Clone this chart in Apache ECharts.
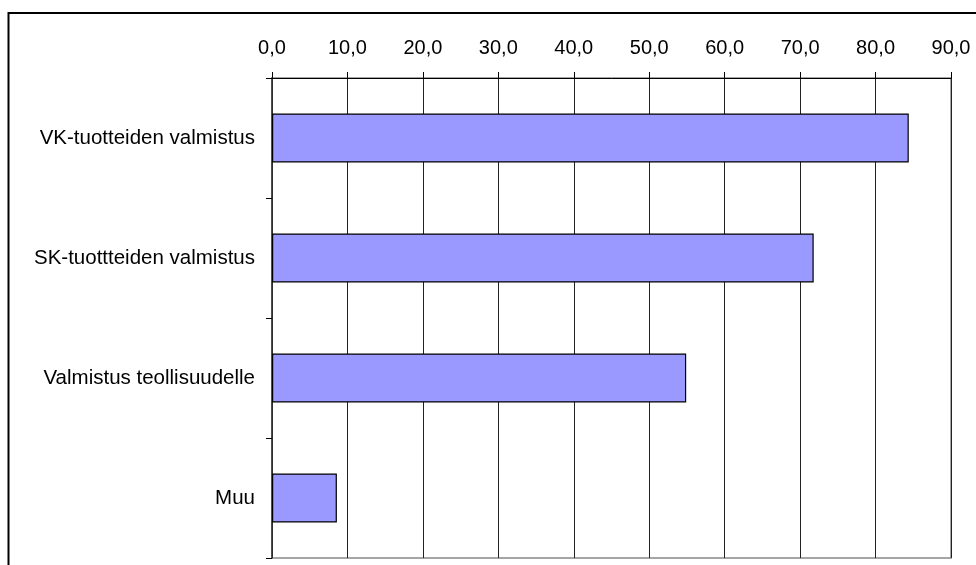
<!DOCTYPE html>
<html>
<head>
<meta charset="utf-8">
<script src="https://cdn.jsdelivr.net/npm/echarts@6/dist/echarts.min.js"></script>
<style>
  html, body { margin: 0; padding: 0; background: #fff; }
  #chart { width: 976px; height: 565px; }
</style>
</head>
<body>
<div id="chart"></div>
<script>
// Manufacturing activity shares
const categories = [
  'VK-tuotteiden valmistus',
  'SK-tuottteiden valmistus',
  'Valmistus teollisuudelle',
  'Muu'
];
const values = [84.4, 71.8, 54.9, 8.6];
const tickLabels = ['0,0', '10,0', '20,0', '30,0', '40,0', '50,0', '60,0', '70,0', '80,0', '90,0'];

const FONT = '"Liberation Sans", Arial, sans-serif';
const chart = echarts.init(document.getElementById('chart'), null, { renderer: 'canvas' });

chart.setOption({
  backgroundColor: '#ffffff',
  animation: false,
  graphic: [{
    type: 'rect',
    shape: { x: 8.5, y: 13, width: 1200, height: 1000 },
    style: { fill: 'none', stroke: '#000', lineWidth: 2 },
    silent: true,
    z: 0
  }],
  grid: {
    left: 272, top: 78, right: 25, bottom: 7,
    show: true,
    borderColor: '#888',
    borderWidth: 1.5,
    containLabel: false
  },
  xAxis: {
    type: 'value',
    position: 'top',
    min: 0, max: 90, interval: 10,
    axisLine: { show: true, lineStyle: { color: '#000', width: 1 } },
    axisTick: { show: true, inside: false, length: 6, lineStyle: { color: '#000' } },
    splitLine: { show: true, lineStyle: { color: '#222', width: 1 } },
    axisLabel: {
      margin: 20,
      fontFamily: FONT,
      fontSize: 20,
      color: '#000',
      formatter: v => tickLabels[Math.round(v / 10)]
    }
  },
  yAxis: {
    type: 'category',
    data: categories,
    inverse: true,
    axisLine: { show: true, lineStyle: { color: '#333', width: 1.5 } },
    axisTick: { show: true, inside: false, length: 6, lineStyle: { color: '#000' } },
    axisLabel: {
      margin: 17,
      fontFamily: FONT,
      fontSize: 20.5,
      color: '#000'
    }
  },
  series: [{
    type: 'bar',
    data: values,
    barWidth: 49,
    itemStyle: { color: '#9999FF', borderColor: '#000', borderWidth: 1.2 }
  }]
});
</script>
</body>
</html>
